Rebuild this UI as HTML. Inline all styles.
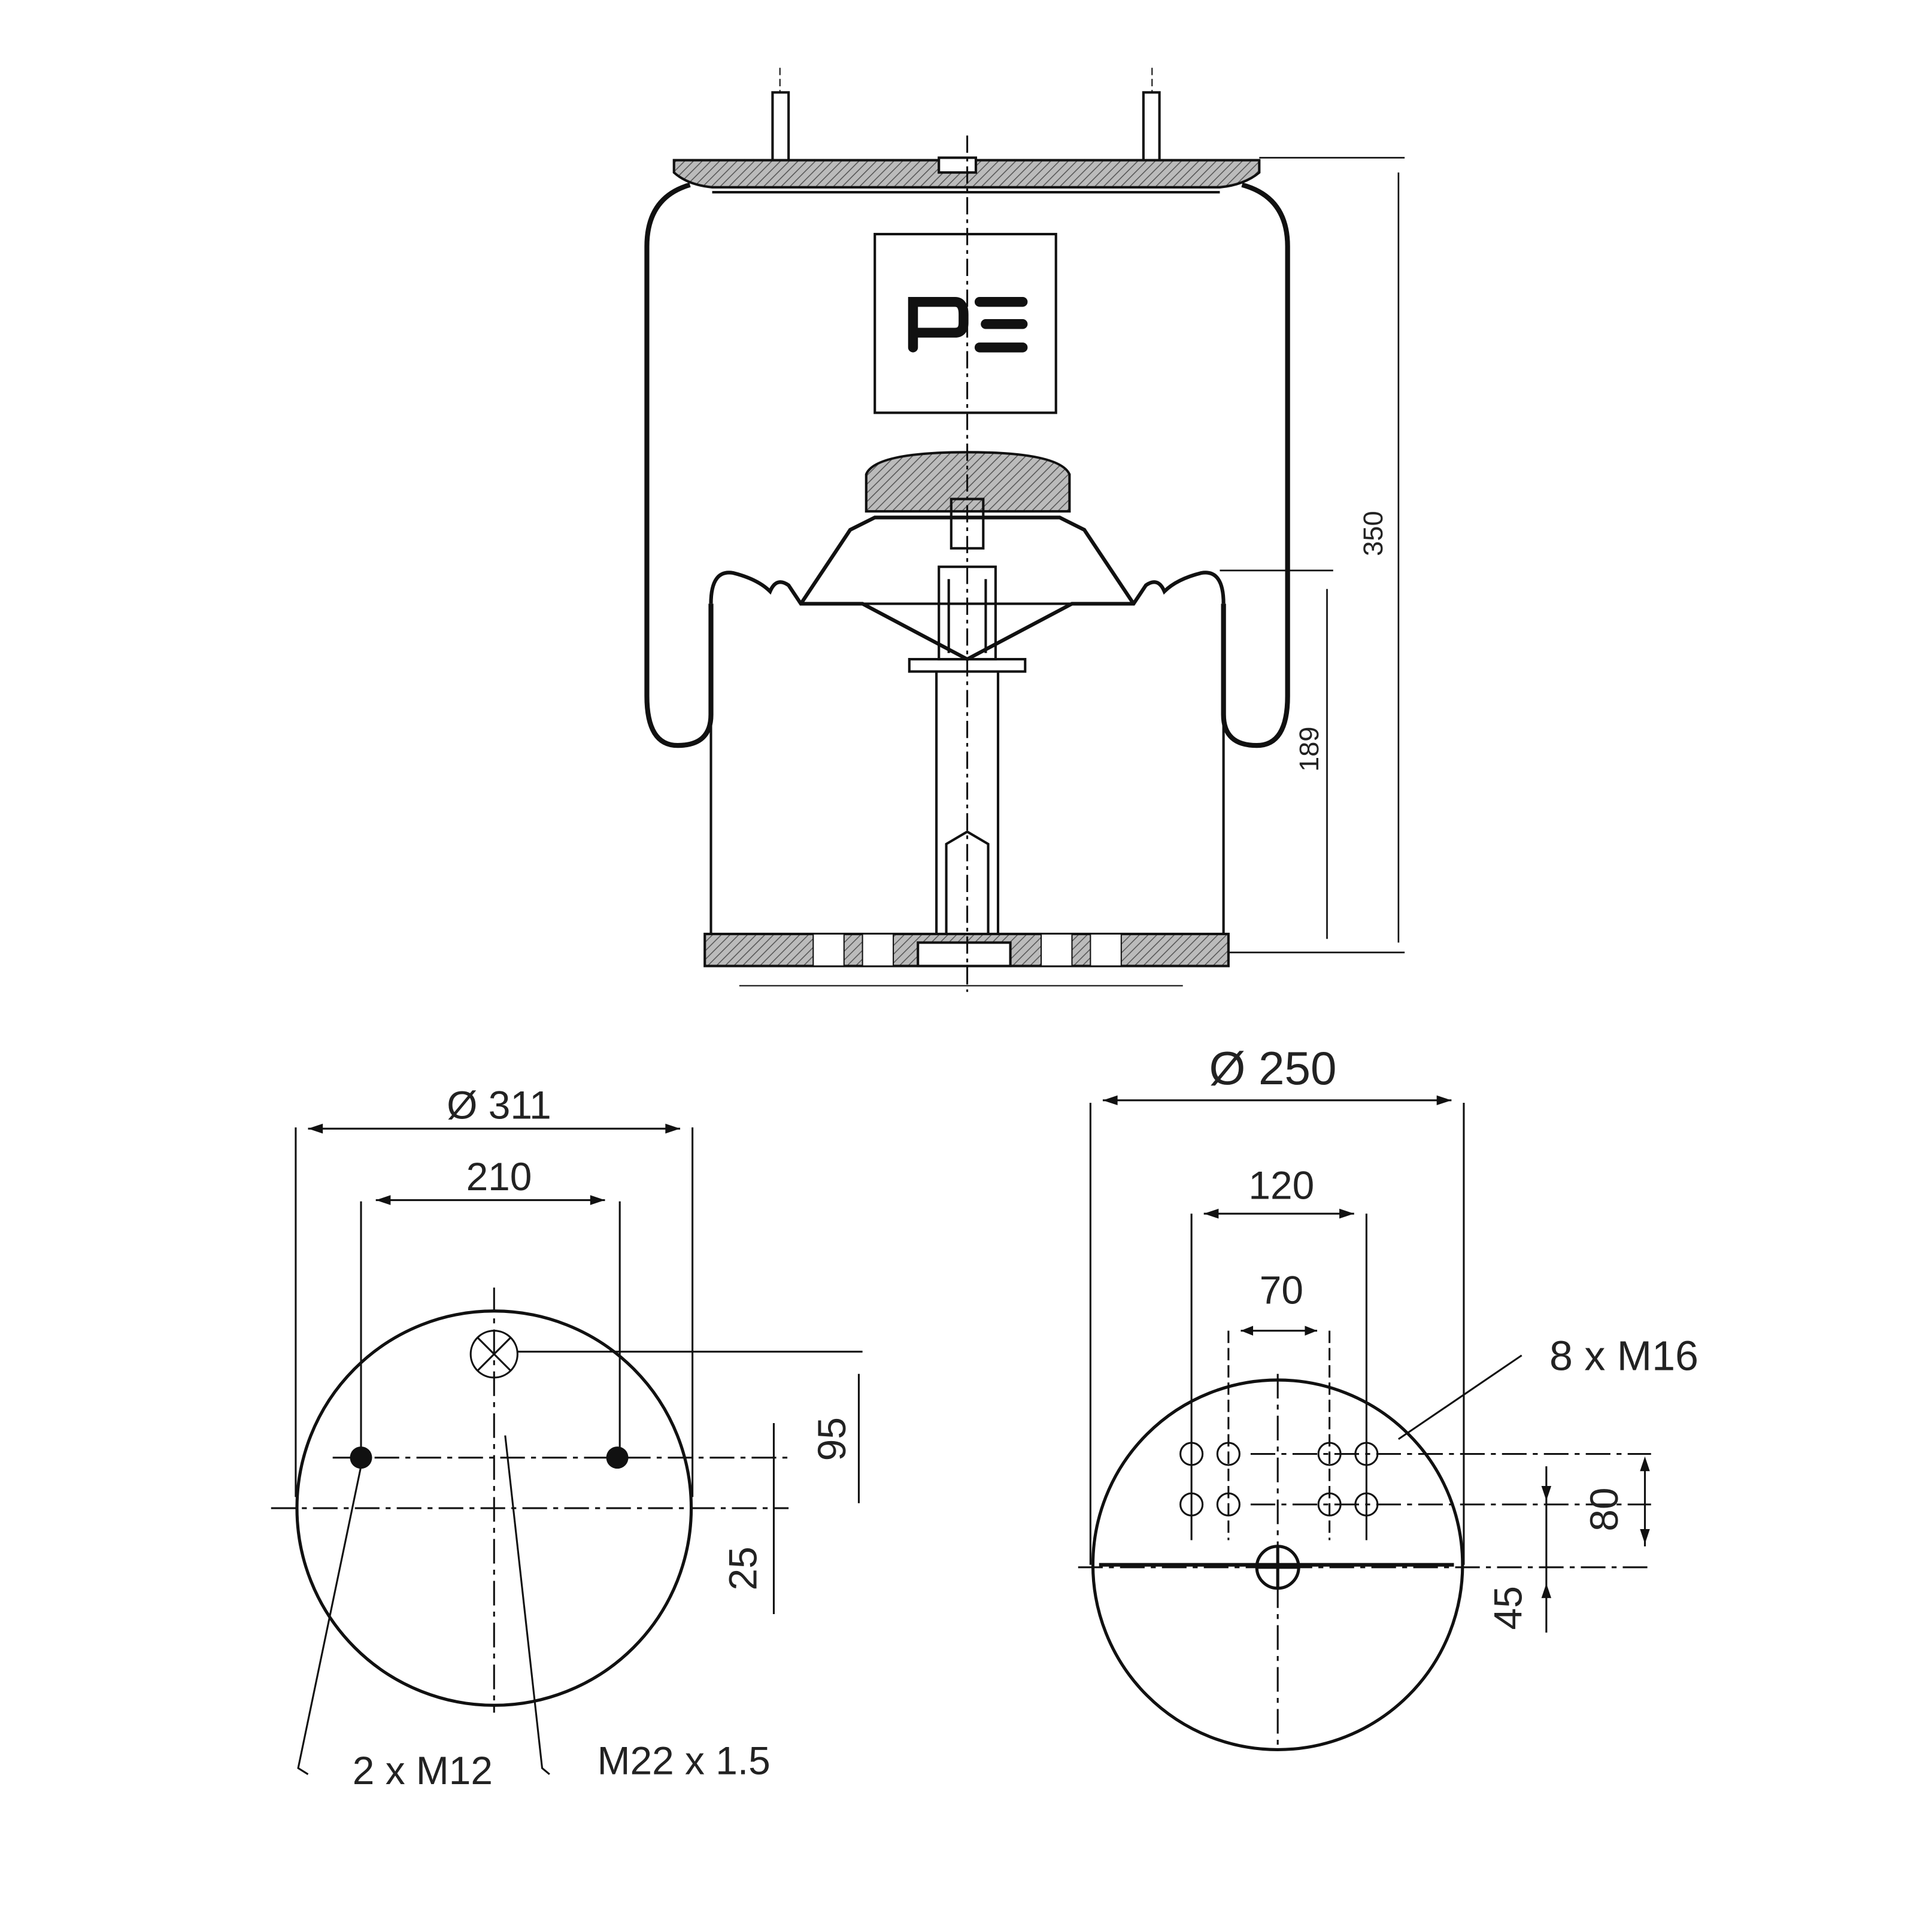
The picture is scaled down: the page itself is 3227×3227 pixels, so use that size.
<!DOCTYPE html>
<html><head><meta charset="utf-8"><style>
html,body{margin:0;padding:0;background:#fff}
svg{display:block}
text{font-family:"Liberation Sans",sans-serif;fill:#222}
</style></head><body>
<svg width="3227" height="3227" viewBox="0 0 1568 1568" xmlns="http://www.w3.org/2000/svg">
<defs>
<pattern id="h" width="5" height="5" patternUnits="userSpaceOnUse" patternTransform="rotate(45)"><rect width="5" height="5" fill="#bbb"/><line x1="0" y1="0" x2="0" y2="5" stroke="#555" stroke-width="1.5"/></pattern>
</defs>
<g fill="none" stroke="#111" stroke-width="2">
<rect x="627" y="75" width="13" height="68"/><line x1="633" y1="55" x2="633" y2="75" stroke-dasharray="6 3" stroke-width="1"/>
<rect x="928" y="75" width="13" height="68"/><line x1="935" y1="55" x2="935" y2="75" stroke-dasharray="6 3" stroke-width="1"/>
<path d="M547 130 L1022 130 L1022 140 Q1010 150 990 152 L578 152 Q558 150 547 140 Z" fill="url(#h)"/>
<line x1="578" y1="156" x2="990" y2="156"/>
<rect x="762" y="128" width="30" height="12" fill="#fff"/>
<path d="M560 150 Q525 160 525 200 L525 565 Q525 605 550 605 Q577 605 577 580 L577 490" stroke-width="4"/>
<path d="M1008 150 Q1045 160 1045 200 L1045 565 Q1045 605 1020 605 Q993 605 993 580 L993 490" stroke-width="4"/>
<path d="M577 490 Q577 462 595 465 Q615 470 625 480 Q630 468 640 475 L650 490 L700 490 L785 535 L870 490 L920 490 L930 475 Q940 468 945 480 Q955 470 975 465 Q993 462 993 490" stroke-width="3"/>
<path d="M650 490 L690 430 L710 420 L860 420 L880 430 L920 490" stroke-width="3"/>
<line x1="650" y1="490" x2="920" y2="490"/>
<line x1="577" y1="490" x2="577" y2="760"/><line x1="993" y1="490" x2="993" y2="760"/>
<path d="M703 415 L703 385 Q710 367 785 367 Q860 367 868 385 L868 415 Z" fill="url(#h)"/>
<rect x="772" y="405" width="26" height="40"/>
<rect x="762" y="460" width="46" height="75"/>
<line x1="770" y1="470" x2="770" y2="530"/><line x1="800" y1="470" x2="800" y2="530"/>
<rect x="738" y="535" width="94" height="10"/>
<line x1="760" y1="545" x2="760" y2="760"/><line x1="810" y1="545" x2="810" y2="760"/>
<path d="M768 700 L768 685 L785 675 L802 685 L802 760 M768 700 L768 760"/>
<rect x="572" y="758" width="425" height="26" fill="url(#h)"/>
<rect x="660" y="758" width="25" height="26" fill="#fff" stroke-width="1"/>
<rect x="700" y="758" width="25" height="26" fill="#fff" stroke-width="1"/>
<rect x="845" y="758" width="25" height="26" fill="#fff" stroke-width="1"/>
<rect x="885" y="758" width="25" height="26" fill="#fff" stroke-width="1"/>
<rect x="745" y="765" width="75" height="19" fill="#fff"/>
<line x1="600" y1="800" x2="960" y2="800" stroke-width="1"/>
<rect x="710" y="190" width="147" height="145"/>
</g>
<g fill="none" stroke="#111" stroke-width="8" stroke-linecap="round">
<path d="M741 282 L741 245 L775 245 Q782 245 782 255 L782 262 Q782 270 775 270 L745 270"/>
<path d="M795 245 L830 245 M800 263 L830 263 M795 282 L830 282"/>
</g>
<line x1="785" y1="110" x2="785" y2="805" stroke="#111" stroke-width="1.5" stroke-dasharray="14 4 3 4"/>
<g stroke="#111" stroke-width="1.3" fill="#111">
<line x1="1022" y1="128" x2="1140" y2="128"/><line x1="997" y1="773" x2="1140" y2="773"/>
<line x1="1135" y1="140" x2="1135" y2="765"/>
<line x1="990" y1="463" x2="1082" y2="463"/>
<line x1="1077" y1="478" x2="1077" y2="762"/>
</g>
<text x="1122" y="433" font-size="22" transform="rotate(-90 1122 433)" text-anchor="middle">350</text>
<text x="1070" y="608" font-size="22" transform="rotate(-90 1070 608)" text-anchor="middle">189</text>

<g stroke="#111" stroke-width="1.5" fill="none">
<circle cx="401" cy="1224" r="160" stroke-width="2.5"/>
<line x1="240" y1="915" x2="240" y2="1215"/><line x1="562" y1="915" x2="562" y2="1215"/>
<line x1="250" y1="916" x2="552" y2="916"/>
<line x1="293" y1="975" x2="293" y2="1175"/><line x1="503" y1="975" x2="503" y2="1175"/>
<line x1="305" y1="974" x2="491" y2="974"/>
<line x1="220" y1="1224" x2="640" y2="1224" stroke-dasharray="20 5 4 5"/>
<line x1="270" y1="1183" x2="640" y2="1183" stroke-dasharray="20 5 4 5"/>
<line x1="401" y1="1045" x2="401" y2="1390" stroke-dasharray="20 5 4 5"/>
<circle cx="401" cy="1099" r="19"/><path d="M388 1086 L414 1112 M414 1086 L388 1112"/>
<line x1="420" y1="1097" x2="700" y2="1097"/>
<line x1="697" y1="1115" x2="697" y2="1220"/>
<line x1="628" y1="1155" x2="628" y2="1310"/>
<path d="M293 1190 L242 1435 L250 1440"/>
<path d="M410 1165 L440 1435 L446 1440"/>
</g>
<g fill="#111"><circle cx="293" cy="1183" r="9"/><circle cx="501" cy="1183" r="9"/>
<path d="M250 916 l12 -4 v8z M552 916 l-12 -4 v8z M305 974 l12 -4 v8z M491 974 l-12 -4 v8z"/></g>
<text x="405" y="908" font-size="32" text-anchor="middle">Ø 311</text>
<text x="405" y="966" font-size="32" text-anchor="middle">210</text>
<text x="686" y="1168" font-size="32" text-anchor="middle" transform="rotate(-90 686 1168)">95</text>
<text x="614" y="1273" font-size="32" text-anchor="middle" transform="rotate(-90 614 1273)">25</text>
<text x="343" y="1448" font-size="32" text-anchor="middle">2 x M12</text>
<text x="555" y="1440" font-size="32" text-anchor="middle">M22 x 1.5</text>

<g stroke="#111" stroke-width="1.5" fill="none">
<circle cx="1037" cy="1270" r="150" stroke-width="2.5"/>
<line x1="885" y1="895" x2="885" y2="1270"/><line x1="1188" y1="895" x2="1188" y2="1270"/>
<line x1="895" y1="893" x2="1178" y2="893"/>
<line x1="967" y1="985" x2="967" y2="1250"/><line x1="1109" y1="985" x2="1109" y2="1250"/>
<line x1="977" y1="985" x2="1099" y2="985"/>
<line x1="997" y1="1080" x2="997" y2="1250" stroke-dasharray="10 4"/><line x1="1079" y1="1080" x2="1079" y2="1250" stroke-dasharray="10 4"/>
<line x1="1007" y1="1080" x2="1069" y2="1080"/>
<line x1="1037" y1="1115" x2="1037" y2="1420" stroke-dasharray="20 5 4 5"/>
<line x1="1015" y1="1180" x2="1340" y2="1180" stroke-dasharray="20 5 4 5"/>
<line x1="1015" y1="1221" x2="1340" y2="1221" stroke-dasharray="20 5 4 5"/>
<line x1="875" y1="1272" x2="1340" y2="1272" stroke-dasharray="20 5 4 5"/>
<line x1="892" y1="1270" x2="1180" y2="1270" stroke-width="3"/>
<circle cx="967" cy="1180" r="9"/><circle cx="997" cy="1180" r="9"/><circle cx="1079" cy="1180" r="9"/><circle cx="1109" cy="1180" r="9"/>
<circle cx="967" cy="1221" r="9"/><circle cx="997" cy="1221" r="9"/><circle cx="1079" cy="1221" r="9"/><circle cx="1109" cy="1221" r="9"/>
<circle cx="1037" cy="1272" r="17" stroke-width="2.5"/><path d="M1020 1272 h34 M1037 1255 v34" stroke-width="2.5"/>
<line x1="1135" y1="1168" x2="1235" y2="1100"/>
<line x1="1255" y1="1190" x2="1255" y2="1325"/>
<line x1="1335" y1="1190" x2="1335" y2="1255"/>
</g>
<g fill="#111"><path d="M895 893 l12 -4 v8z M1178 893 l-12 -4 v8z M977 985 l12 -4 v8z M1099 985 l-12 -4 v8z M1007 1080 l10 -4 v8z M1069 1080 l-10 -4 v8z
M1335 1182 l-4 12 h8z M1335 1253 l-4 -12 h8z M1255 1218 l-4 -12 h8z M1255 1285 l-4 12 h8z"/></g>
<text x="1033" y="880" font-size="38" text-anchor="middle">Ø 250</text>
<text x="1040" y="973" font-size="32" text-anchor="middle">120</text>
<text x="1040" y="1058" font-size="32" text-anchor="middle">70</text>
<text x="1318" y="1112" font-size="34" text-anchor="middle">8 x M16</text>
<text x="1313" y="1225" font-size="32" text-anchor="middle" transform="rotate(-90 1313 1225)">80</text>
<text x="1235" y="1305" font-size="32" text-anchor="middle" transform="rotate(-90 1235 1305)">45</text>
</svg>
</body></html>
